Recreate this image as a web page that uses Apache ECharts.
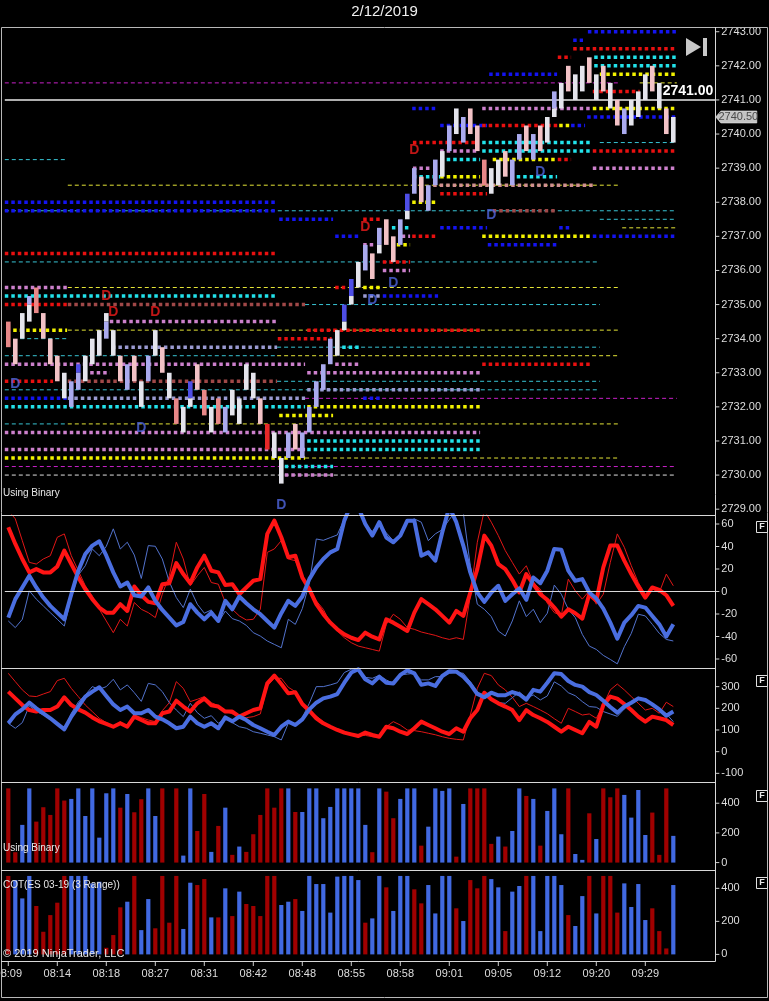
<!DOCTYPE html>
<html><head><meta charset="utf-8">
<script src="https://cdn.jsdelivr.net/npm/echarts@6/dist/echarts.min.js"></script>
<style>html,body{margin:0;padding:0;background:#000;}#c{width:769px;height:1001px;}</style>
</head><body><div id="c"></div>
<script>
const titleText = '2/12/2019';
const timeLabels = ['08:09','08:14','08:18','08:27','08:31','08:42','08:48','08:55','08:58','09:01','09:05','09:12','09:20','09:29'];
const lastPrice = 2740.5;
const refLine = 2741.0;

const candleHigh = [2734.5,2734.0,2734.75,2735.25,2735.5,2734.75,2734.0,2733.5,2733.0,2732.75,
 2733.25,2733.5,2734.0,2734.25,2734.75,2734.25,2733.5,2733.25,2733.5,2732.75,
 2733.5,2734.25,2733.75,2733.0,2732.25,2732.0,2732.75,2733.25,2732.5,2732.0,
 2732.25,2732.0,2732.5,2732.25,2733.25,2733.0,2732.25,2731.5,2731.25,2730.5,
 2731.25,2731.5,2731.25,2732.0,2732.75,2733.25,2734.0,2734.25,2735.0,2735.75,
 2736.25,2736.75,2736.5,2737.25,2737.5,2737.0,2737.5,2738.25,2739.0,2738.75,
 2738.5,2739.25,2739.5,2740.25,2740.75,2740.5,2740.75,2740.25,2739.25,2739.0,
 2739.25,2739.5,2739.25,2740.0,2740.25,2740.0,2740.25,2740.5,2741.25,2741.5,
 2742.0,2741.75,2742.0,2742.25,2741.75,2742.0,2741.5,2741.0,2740.75,2741.0,
 2741.25,2741.75,2742.0,2741.5,2740.75,2740.5];
const candleLow = [2733.75,2733.25,2734.0,2734.5,2734.75,2734.0,2733.25,2732.75,2732.25,2732.0,
 2732.5,2732.75,2733.25,2733.5,2734.0,2733.5,2732.75,2732.5,2732.75,2732.0,
 2732.75,2733.5,2733.0,2732.25,2731.5,2731.25,2732.0,2732.5,2731.75,2731.25,
 2731.5,2731.25,2731.75,2731.5,2732.5,2732.25,2731.5,2730.75,2730.5,2729.75,
 2730.5,2730.75,2730.5,2731.25,2732.0,2732.5,2733.25,2733.5,2734.25,2735.0,
 2735.5,2736.0,2735.75,2736.5,2736.75,2736.25,2736.75,2737.5,2738.25,2738.0,
 2737.75,2738.5,2738.75,2739.5,2740.0,2739.75,2740.0,2739.5,2738.5,2738.25,
 2738.5,2738.75,2738.5,2739.25,2739.5,2739.25,2739.5,2739.75,2740.5,2740.75,
 2741.25,2741.0,2741.25,2741.5,2741.0,2741.25,2740.75,2740.25,2740.0,2740.25,
 2740.5,2741.0,2741.25,2740.75,2740.0,2739.75];
const candleColor = ['s','p','w','l','s','p','p','p','w','l',
 'b','w','w','w','w','w','p','l','p','w',
 'l','w','p','w','s','w','b','p','s','w',
 's','l','w','w','w','w','p','r','w','w',
 'l','p','l','l','l','l','l','w','b','b',
 'w','l','p','l','p','p','l','b','l','p',
 'l','l','w','l','w','l','p','p','s','w',
 'w','p','l','l','p','l','p','w','l','w',
 'p','w','w','p','w','p','w','p','l','w',
 'w','w','p','w','p','w'];
const splitIndex = [3,10,14,26,48,49,53,57,78];
const splitPrice = [2735.0,2733.0,2734.5,2732.25,2734.5,2735.25,2736.75,2737.75,2740.75];
const splitColor = ['w','l','l','w','w','w','w','w','w'];

const dRedIdx = [58,51,14,15,21];
const dRedPrice = [2739.53,2737.27,2735.25,2734.78,2734.78];
const dBlueIdx = [1,19,39,52,55,69,76];
const dBluePrice = [2732.67,2731.38,2729.12,2735.13,2735.63,2737.62,2738.89];

const levelPrice = [2743.0,2742.75,2742.5,2742.25,2742.25,2742.0,2741.75,2741.75,2741.5,2741.5,
 2741.25,2740.75,2740.75,2740.75,2740.5,2740.25,2740.25,2740.25,2740.25,2739.75,
 2739.75,2739.75,2739.5,2739.5,2739.5,2739.25,2739.25,2739.25,2739.25,2739.0,
 2739.0,2738.75,2738.75,2738.75,2738.5,2738.5,2738.25,2738.0,2738.0,2737.75,
 2737.75,2737.75,2737.5,2737.5,2737.5,2737.25,2737.25,2737.25,2737.25,2737.0,
 2737.0,2737.0,2737.0,2737.0,2736.75,2736.75,2736.75,2736.5,2736.25,2736.25,
 2736.0,2735.5,2735.5,2735.5,2735.5,2735.25,2735.25,2735.25,2735.0,2735.0,
 2735.0,2734.5,2734.25,2734.25,2734.25,2734.0,2734.0,2733.75,2733.75,2733.75,
 2733.5,2733.5,2733.25,2733.25,2733.25,2733.0,2733.0,2732.75,2732.75,2732.75,
 2732.5,2732.5,2732.25,2732.25,2732.25,2732.25,2732.0,2732.0,2731.75,2731.5,
 2731.5,2731.25,2731.0,2730.75,2730.75,2730.5,2730.5,2730.25,2730.25,2730.0,
 2730.0];
const levelFrom = [82.8,80.7,80.7,78.5,83.7,83.7,84.5,68.7,-0.5,90.2,
 83.5,57.7,67.7,83.5,82.7,61.7,67.7,78.7,80.4,57.8,
 67.7,84.5,61.7,67.7,83.5,61.7,69.2,78.5,-0.5,57.8,
 83.5,57.8,61.7,71.7,8.5,60.7,61.7,57.7,-0.5,-0.5,
 -0.5,69.2,84.5,38.7,50.7,54.8,61.7,78.7,87.7,46.7,
 56.2,57.7,67.7,83.5,50.7,55.5,68.5,-0.5,-0.5,53.5,
 53.5,-0.5,8.5,46.7,50.7,-0.5,50.7,53.5,-0.5,8.5,
 42.4,14.5,0.7,8.5,42.7,1.7,38.5,14.8,38.4,47.7,
 -0.5,38.4,-0.5,46.7,67.7,11.7,42.7,-0.5,8.5,38.4,
 -0.5,42.7,-0.5,8.5,42.4,50.7,-0.5,42.7,38.7,-0.5,
 8.5,-0.5,42.7,-0.5,42.7,-0.5,42.4,-0.5,39.5,-0.5,
 39.5];
const levelTo = [95.5,82.1,95.5,80.4,95.5,95.5,95.5,78.4,87.4,95.5,
 90.2,61.2,83.4,95.5,95.5,68.4,78.5,80.4,82.4,67.1,
 83.4,95.5,67.1,83.4,95.5,67.4,78.4,80.4,8.5,60.2,
 95.5,61.7,67.4,78.4,87.4,83.5,68.4,61.2,38.4,95.5,
 38.4,78.4,95.5,46.4,53.4,57.4,68.4,80.4,95.5,50.2,
 57.4,61.4,83.4,95.5,52.4,57.4,78.4,38.4,84.5,57.4,
 57.4,8.4,87.4,48.5,53.4,38.4,53.4,61.4,8.4,42.4,
 84.5,38.4,8.4,87.4,67.4,8.4,46.2,38.4,84.5,50.2,
 38.4,87.4,42.4,50.2,83.4,14.5,67.4,6.4,38.4,84.5,
 84.5,67.4,8.4,42.4,95.5,53.4,42.4,67.4,46.4,8.4,
 87.4,67.4,67.4,42.4,67.4,42.4,87.4,95.5,46.4,95.5,
 46.4];
const levelKind = ['blueDot','blueDot','redDot','redDot','cyanDot','cyanDot','yellowDot','blueDot','purpleThin','yellowThin',
 'redDot','blueDot','pinkDot','yellowDot','blueDot','blueDot','redDot','yellowDot','blueDot','redDot',
 'cyanDot','cyanThin','pinkDot','cyanDot','redDot','cyanDot','yellowDot','redDot','cyanThin','pinkDot',
 'pinkDot','cyanDot','yellowDot','cyanDot','yellowThin','salmonDot','redDot','yellowDot','blueDot','cyanThin',
 'blueDot','darkRedDot','cyanThin','blueDot','redDot','cyanDot','blueDot','blueDot','yellowThin','blueDot',
 'pinkDot','redDot','yellowDot','blueDot','pinkDot','yellowDot','blueDot','redDot','cyanThin','redDot',
 'pinkDot','pinkDot','yellowThin','redDot','yellowDot','cyanDot','lavDot','blueDot','redDot','darkRedDot',
 'cyanThin','pinkDot','yellowDot','yellowThin','redDot','cyanThin','redDot','lavDot','cyanThin','cyanDot',
 'cyanThin','yellowThin','pinkDot','pinkDot','redDot','pinkDot','pinkDot','redDot','darkRedDot','cyanThin',
 'cyanThin','lavDot','blueDot','lavDot','purpleThin','blueDot','cyanDot','yellowDot','yellowDot','cyanThin',
 'yellowThin','pinkDot','cyanDot','pinkDot','cyanDot','yellowDot','yellowThin','purpleThin','cyanDot','whiteThin',
 'pinkDot'];

const oscRedThick = [57.1,42.3,28.9,17,19.9,17,17,22.3,36.3,24.4,
 12.5,2.1,-6.8,-14.3,-18.8,-18.8,-11.3,-17.3,4.5,-3.3,
 -9.2,-10.4,6.5,7.4,25.3,15.5,7.4,21.4,31.8,18.5,
 17,5.7,6.5,-2.4,3.6,9.5,11,51.2,63,48.2,
 30.4,31.8,12.5,2.1,-11.3,-20.2,-27.7,-33.6,-38.1,-41.1,
 -43.2,-36.6,-40.2,-42.6,-24.7,-27.7,-31.3,-35.1,-18.8,-6.8,
 -11.3,-15.8,-21.7,-27.7,-17.3,-21.7,-0.9,19.9,49.7,40.8,
 24.4,19.9,10.4,-0.9,15.5,6.5,-2.4,-7.4,-14.3,-22.3,
 -15.8,-19.3,-24.1,-2.4,-8.3,21.4,40.8,40.8,27.4,15.5,
 4.5,-5.4,3.6,1.5,-3.3,-12.8];
const oscBlueThick = [-23.2,-6.8,3.6,14,3.6,-5.4,-12.8,-18.8,-24.7,-2.4,
 18.5,33.3,40.8,44.6,31.8,17,4.5,8,-3.3,-4.5,
 3.6,-8.3,-16.4,-23.2,-30.1,-27.1,-11.3,-18.8,-24.7,-18.8,
 -26.2,-8.3,-15.8,-4.5,-10.4,-15.8,-20.2,-26.2,-32.1,-19.3,
 -8.3,-12.8,-4.5,11,21.4,28.9,34.8,37.8,63,78,
 75,60,49.7,61.6,48,43.8,49.7,63,63,31.8,
 34.8,27.4,52.7,75,61.6,40.8,17,-0.9,-9.2,-0.9,
 5.1,-8.3,-2.4,2.7,-7.4,12.5,7.4,18.5,37.8,37.2,
 18.5,9.5,11,-0.9,-6.3,-15.2,-27.7,-42,-27.7,-21.1,
 -12.8,-14.3,-21.7,-29.2,-40,-29.2];
const oscRedThin = [72,64.6,45.2,25.9,24.4,28.9,31.8,48.2,51.2,31.8,
 18.5,5.1,-3.9,-15.8,-26.2,-36.6,-24.7,-30.7,-9.8,-15.8,
 -18.8,-23.2,-2.4,14,43.8,28.9,5.1,14,21.4,8,
 6.5,-9.8,-15.8,-21.7,-25.3,-24.7,-15.8,34.8,37.8,45.2,
 28.9,27.4,12.5,2.1,-8.3,-15.8,-27.7,-35.1,-41.1,-45.5,
 -48.5,-50,-51.5,-53,-29.2,-20.2,-24.7,-32.1,-33.6,-36,
 -37.5,-39,-41.1,-42.6,-41.1,-42.6,-3.9,43.8,72,61.6,
 49.7,36.3,25.9,15.5,22.9,8,2.1,-10.4,-18.8,-21.1,
 11,0.6,-6.8,0.6,-11.3,-2.4,25.9,51.2,39.3,22.9,
 8,-2.4,2.1,-0.9,15.5,5.1];
const oscBlueThin = [-26.2,-32.1,-24.7,0.6,-6.8,-12.8,-18.8,-24.7,-30.7,-5.4,
 14.6,22.9,37.8,31.8,40.2,55.7,37.8,43.8,32.4,11.6,
 40.8,40.2,28.9,8.6,-5.4,-14.3,2.1,-11.3,-19.3,-16.4,
 -27.7,-17.3,-24.1,-26.2,-30.1,-36.6,-39.6,-44,-47,-50,
 -24.7,-29.2,-15.2,7.4,46.7,45.5,47.9,50.3,64.6,75,
 72,60.1,53.3,61,52.1,45.2,49.7,61.6,64.6,61.6,
 45.2,51.2,55,64,72,70,22.9,-11.3,-15.8,-22.3,
 -35.1,-39.6,-26.2,-8.3,-22.3,-15.8,-27.7,-19.3,5.7,-2.4,
 -15.8,-23.2,-38.1,-48.5,-51.5,-56.8,-60.4,-64.3,-49.1,-37.2,
 -20.2,-21.7,-29.2,-37.2,-42.6,-44];

const trendRedThick = [277,246,215,192,185,192,192,208,251,215,
 195,180,158,140,128,115,131,115,161.5,146,
 131,131,177,185,235,208,185,223,245,214,
 208,185,185,161.5,177,192,200,315,351,312,
 269,274,220,189,154,131,115,100,88,80,
 72,88,77,69,115,108,92,81.5,108,138.5,
 123,108,92,81.5,108,92,154,192,272,241.5,
 223,208,192,146,192,169,154,137,115,92,
 115,100,85,137,115,215,254,245,220,192,
 161.5,138.5,161.5,154,146,123];
const trendBlueThick = [131,172,195,226,200,177,154,128,103,161.5,
 208,254,277,297,257,218,192,208,177,177,
 192,161.5,149,131,108,115,161.5,131,115,131,
 108,158,140,161.5,146,123,108,92,77,115,
 138.5,123,149,195,226,246,254,266,318,365,
 380,334,315,346,318,315,354,375,361.5,309,
 315,303,349,371,369,346,312,266,251,272,
 260,260,275,265,240,285,277,318,361.5,358,
 326,308,300,275,261.5,235,206,180,208,226,
 246,238.5,218,195,166,185];
const trendRedThin = [361.5,323,285,257,254,266,277,328,338.5,292,
 254,215,185,154,134,115,138.5,115,169,157,
 146,138.5,189,226,323,292,231,241.5,254,226,
 211,188,174,161.5,157,161.5,174,303,338.5,338.5,
 297,277,223,189,165,138.5,115,100,88,80,
 74,75,69,65,115,138.5,123,100,97,92,
 85,78,69,61.5,57,54,169,292,361.5,351,
 308,285,251,208,223,208,192,175,152,131,
 200,185,169,174,154,215,285,312,285,254,
 223,192,200,177,228,208];
const trendBlueThin = [131,108,134,211,186,169,152,126,103,177,
 229,261.5,300,288,300,334,285,308,272,232,
 315,308,277,226,192,161.5,223,180,154,166,
 131,154,134,115,108,92,85,77,69,54,
 131,123,157,223,300,300,308,318,365,380,
 383,343,338.5,352,331,315,354,358,361.5,331,
 331,346,346,361.5,365,361.5,323,275,261.5,243,
 226,223,249,275,248,261.5,238.5,257,322,303,
 272,258,231,208,205,185,174,163,197,223,
 246,238.5,220,195,175,138.5];

const binaryValue = [500,70,254,500,276,373,321,500,418,429,
 500,314,500,168,467,500,370,462,339,427,
 500,314,500,0,500,47,500,213,462,72,
 247,370,52,108,72,191,321,500,370,500,
 500,341,341,500,500,299,375,500,500,500,
 500,254,70,500,478,299,429,500,500,114,
 242,500,483,500,40,395,500,500,500,126,
 175,108,213,500,449,429,114,348,500,191,
 500,58,18,332,159,500,440,500,456,303,
 489,186,337,52,500,180];
const binaryColor = ['r','r','b','b','r','r','r','r','r','b',
 'b','b','b','b','b','b','r','b','r','r',
 'b','b','r','r','r','b','b','r','r','b',
 'r','b','r','b','r','r','r','r','r','r',
 'b','r','b','b','b','b','b','b','b','b',
 'b','b','r','b','r','r','b','b','b','r',
 'b','b','b','b','r','b','r','r','r','r',
 'b','r','b','b','r','b','r','b','b','b',
 'r','b','b','r','b','r','r','r','b','b',
 'b','b','r','r','r','b'];
const cotValue = [475,450,339,475,293,137,238,313,475,475,
 475,475,430,440,40,117,285,319,475,147,
 335,158,475,192,475,154,434,420,456,224,
 224,400,232,380,305,293,232,475,475,299,
 319,335,263,475,426,426,253,471,475,475,
 450,192,218,475,406,263,475,475,394,309,
 420,248,475,475,279,202,450,400,475,456,
 406,141,380,414,475,475,141,475,475,420,
 238,172,353,475,248,475,475,253,430,287,
 426,208,279,141,36,420];
const cotColor = ['r','b','b','b','r','r','r','r','r','b',
 'b','b','b','b','r','r','r','b','r','b',
 'b','r','r','r','r','b','b','r','r','b',
 'r','b','r','b','r','r','r','r','r','b',
 'b','r','b','b','b','b','b','b','b','b',
 'b','r','b','b','r','b','b','b','r','r',
 'b','b','b','b','r','b','r','r','r','b',
 'b','r','b','b','r','b','b','b','b','b',
 'r','b','b','r','b','r','r','r','b','b',
 'b','b','r','r','r','b'];

// ---------- styles ----------
const FONT = '"Liberation Sans", Arial, sans-serif';
const CANDLE_COLORS = {w:'#e4e4ec', p:'#f2c2c6', s:'#e88888', l:'#aaaaee', b:'#4e4ee6', r:'#e82828'};
const VOL_COLORS = {r:'#a00000', b:'#4169e1'};
const LEVEL_STYLES = {
  blueDot:{color:'#1414f0', width:3.5, type:[3.5,3]},
  redDot:{color:'#e81010', width:3.5, type:[3.5,3]},
  cyanDot:{color:'#22e2ea', width:3.5, type:[3.5,3]},
  yellowDot:{color:'#f2f200', width:3.5, type:[3.5,3]},
  pinkDot:{color:'#cc80cc', width:3.5, type:[3.5,3]},
  lavDot:{color:'#9a9ad2', width:3.5, type:[3.5,3]},
  darkRedDot:{color:'#a04848', width:3.5, type:[3.5,3]},
  salmonDot:{color:'#d09090', width:3.5, type:[3.5,3]},
  cyanThin:{color:'#38c4d4', width:1, type:[4,3]},
  yellowThin:{color:'#e4e436', width:1, type:[4,3]},
  purpleThin:{color:'#c820c8', width:1, type:[4,3]},
  whiteThin:{color:'#e0e0e0', width:1, type:[4,3]}
};
const RICH_Y = {
  t:{width:4, height:1, backgroundColor:'#cfcfcf', verticalAlign:'middle'},
  v:{color:'#dedede', fontSize:11, fontFamily:FONT, padding:[0,0,0,2], verticalAlign:'middle'}
};
const isInt = v => Math.abs(v - Math.round(v)) < 1e-6;

const chart = echarts.init(document.getElementById('c'));

const gridDefs = [
  {left:4.8, right:53.7, top:23.2, height:494.5, outerBoundsMode:'none'},
  {left:4.8, right:53.7, top:515, height:153, outerBoundsMode:'none'},
  {left:4.8, right:53.7, top:668, height:114, outerBoundsMode:'none'},
  {left:4.8, right:53.7, top:782, height:88, outerBoundsMode:'none'},
  {left:4.8, right:53.7, top:870, height:91, outerBoundsMode:'none'}
];

const xAxes = gridDefs.map((g, k) => ({
  type:'value', gridIndex:k, min:-0.5, max:101, interval:0.5,
  show: k === 4,
  axisLine:{show:false}, axisTick:{show:false}, splitLine:{show:false},
  axisLabel: k === 4 ? {
    show:true, margin:0, alignMinLabel:'center', alignMaxLabel:'center',
    formatter: v => {
      if (!isInt(v)) return '';
      const r = Math.round(v);
      if (r < 0 || r % 7 !== 0 || r / 7 >= timeLabels.length) return '';
      return '{t|}\n{v|' + timeLabels[r / 7] + '}';
    },
    rich:{
      t:{width:1, height:5, backgroundColor:'#cfcfcf', align:'center'},
      v:{color:'#dedede', fontSize:11, fontFamily:FONT, lineHeight:14, padding:[1,0,0,0], align:'center'}
    }
  } : {show:false}
}));

function yAxisDef(k, min, max, interval, test, fmt) {
  return {
    type:'value', gridIndex:k, position:'right', min:min, max:max, interval:interval,
    axisLine:{show:false}, axisTick:{show:false}, splitLine:{show:false},
    axisLabel:{show:true, margin:0, formatter: v => test(v) ? '{t|}{v|' + fmt(v) + '}' : '', rich:RICH_Y}
  };
}
const yAxes = [
  yAxisDef(0, 2728.75, 2743.25, 0.25, v => isInt(v) && v >= 2729 && v <= 2743, v => v.toFixed(2)),
  yAxisDef(1, -68, 68, 4, v => isInt(v) && Math.round(v) % 20 === 0, v => String(Math.round(v))),
  yAxisDef(2, -140, 386, 20, v => isInt(v) && Math.round(v) % 100 === 0, v => String(Math.round(v))),
  yAxisDef(3, -50, 543, 50, v => isInt(v) && v >= 0 && Math.round(v) % 200 === 0, v => String(Math.round(v))),
  yAxisDef(4, -40, 511, 40, v => isInt(v) && v >= 0 && Math.round(v) % 200 === 0, v => String(Math.round(v)))
];

const series = [];

// level lines
levelPrice.forEach((p, k) => {
  series.push({
    type:'line', xAxisIndex:0, yAxisIndex:0, silent:true, symbol:'none', z:1,
    data:[[levelFrom[k], p], [levelTo[k], p]],
    lineStyle:Object.assign({cap:'butt', opacity:1}, LEVEL_STYLES[levelKind[k]])
  });
});

// candles
series.push({
  type:'custom', xAxisIndex:0, yAxisIndex:0, z:5,
  data: candleHigh.map((h, k) => [k, h, candleLow[k]]),
  encode:{x:0, y:[1,2]},
  renderItem: function(params, api) {
    const k = params.dataIndex;
    const i = api.value(0), hi = api.value(1), lo = api.value(2);
    const top = api.coord([i, hi]), bot = api.coord([i, lo]);
    const w = 4.6;
    const s = splitIndex.indexOf(k);
    const children = [];
    if (s < 0) {
      children.push({type:'rect', shape:{x:top[0]-w/2, y:top[1], width:w, height:bot[1]-top[1]}, style:{fill:CANDLE_COLORS[candleColor[k]]}});
    } else {
      const m = api.coord([i, splitPrice[s]]);
      children.push({type:'rect', shape:{x:top[0]-w/2, y:top[1], width:w, height:m[1]-top[1]}, style:{fill:CANDLE_COLORS[candleColor[k]]}});
      children.push({type:'rect', shape:{x:top[0]-w/2, y:m[1], width:w, height:bot[1]-m[1]}, style:{fill:CANDLE_COLORS[splitColor[s]]}});
    }
    return {type:'group', children:children};
  },
  markLine:{
    silent:true, symbol:['none','none'], animation:false,
    lineStyle:{color:'#e8e8e8', width:1.5, type:'solid'},
    label:{show:true, position:'insideEndTop', formatter: refLine.toFixed(2), color:'#ffffff', fontWeight:'bold', fontSize:14, fontFamily:FONT, distance:[2,2]},
    data:[{yAxis:refLine}]
  },
  markPoint:{
    silent:true, animation:false,
    symbol:'path://M0,6 L5,0 L41,0 L41,12 L5,12 Z', symbolSize:[41,12], symbolOffset:[21,0],
    itemStyle:{color:'#c4c4c4', borderColor:'#e8e8e8', borderWidth:0.5},
    label:{show:true, formatter: lastPrice.toFixed(2), color:'#4a4a4a', fontSize:11, fontFamily:FONT, offset:[2,0]},
    data:[{coord:[101, lastPrice]}]
  }
});

// D markers
function dSeries(idx, prices, color) {
  return {
    type:'scatter', xAxisIndex:0, yAxisIndex:0, z:6, silent:true,
    symbol:'circle', symbolSize:2, itemStyle:{color:'rgba(0,0,0,0)'},
    label:{show:true, position:'inside', formatter:'D', color:color, fontSize:14, fontWeight:'bold', fontFamily:FONT, textBorderWidth:0},
    data: idx.map((x, k) => [x, prices[k]])
  };
}
series.push(dSeries(dRedIdx, dRedPrice, '#f01c1c'));
series.push(dSeries(dBlueIdx, dBluePrice, '#4f66e0'));

// oscillator panels
function lineS(grid, arr, color, width, z) {
  return {type:'line', xAxisIndex:grid, yAxisIndex:grid, symbol:'none', silent:true, z:z,
    data: arr.map((v, i) => [i, v]), lineStyle:{color:color, width:width, join:'round'}};
}
series.push(lineS(1, oscRedThin, '#e01616', 1, 2));
series.push(lineS(1, oscBlueThin, '#5272cc', 1, 2));
series.push(lineS(1, oscRedThick, '#ff1414', 4, 3));
series.push(lineS(1, oscBlueThick, '#4a6ee0', 4, 3));
series.push({type:'line', xAxisIndex:1, yAxisIndex:1, data:[], silent:true,
  markLine:{silent:true, symbol:['none','none'], animation:false, label:{show:false},
    lineStyle:{color:'#d8d8d8', width:1, type:'solid'}, data:[{yAxis:0}]}});
series.push(lineS(2, trendRedThin, '#e01616', 1, 2));
series.push(lineS(2, trendBlueThin, '#5272cc', 1, 2));
series.push(lineS(2, trendRedThick, '#ff1414', 4, 3));
series.push(lineS(2, trendBlueThick, '#4a6ee0', 4, 3));

// volume-style panels
function volS(grid, vals, cols) {
  return {
    type:'custom', xAxisIndex:grid, yAxisIndex:grid, z:3,
    data: vals.map((v, i) => [i, v]), encode:{x:0, y:1},
    renderItem: function(params, api) {
      const k = params.dataIndex;
      const p0 = api.coord([api.value(0), 0]), p1 = api.coord([api.value(0), api.value(1)]);
      const w = 4.2;
      return {type:'rect', shape:{x:p0[0]-w/2, y:p1[1], width:w, height:p0[1]-p1[1]}, style:{fill:VOL_COLORS[cols[k]]}};
    }
  };
}
series.push(volS(3, binaryValue, binaryColor));
series.push(volS(4, cotValue, cotColor));

// frame & annotations
const LINE = '#d8d8d8';
const graphics = [
  {id:'title', type:'text', left:'center', top:4, style:{text:titleText, fill:'#f0f0f0', fontSize:15, fontFamily:FONT}},
  {id:'frame', type:'rect', shape:{x:1.5, y:27.5, width:766, height:970}, style:{fill:'none', stroke:'#b8b8b8', lineWidth:1}, z:50},
  {id:'vax', type:'line', shape:{x1:715.5, y1:27, x2:715.5, y2:961.5}, style:{stroke:LINE, lineWidth:1}, z:50},
  {id:'s1', type:'line', shape:{x1:1, y1:515.5, x2:715.5, y2:515.5}, style:{stroke:LINE, lineWidth:1}, z:50},
  {id:'s2', type:'line', shape:{x1:1, y1:668.5, x2:715.5, y2:668.5}, style:{stroke:LINE, lineWidth:1}, z:50},
  {id:'s3', type:'line', shape:{x1:1, y1:782.5, x2:715.5, y2:782.5}, style:{stroke:LINE, lineWidth:1}, z:50},
  {id:'s4', type:'line', shape:{x1:1, y1:870.5, x2:715.5, y2:870.5}, style:{stroke:LINE, lineWidth:1}, z:50},
  {id:'s5', type:'line', shape:{x1:1, y1:961.5, x2:715.5, y2:961.5}, style:{stroke:LINE, lineWidth:1}, z:50},
  {id:'play1', type:'polygon', shape:{points:[[686,38],[686,56],[701,47]]}, style:{fill:'#c8c8c8'}, z:50},
  {id:'play2', type:'rect', shape:{x:703, y:38, width:4, height:18}, style:{fill:'#c8c8c8'}, z:50},
  {id:'t1', type:'text', x:3, y:488, style:{text:'Using Binary', fill:'#e8e8e8', fontSize:10, fontFamily:FONT}, z:50},
  {id:'t2', type:'text', x:3, y:843, style:{text:'Using Binary', fill:'#e8e8e8', fontSize:10, fontFamily:FONT}, z:50},
  {id:'t3', type:'text', x:3, y:880, style:{text:'COT(ES 03-19 (3 Range))', fill:'#e8e8e8', fontSize:10, fontFamily:FONT}, z:50},
  {id:'t4', type:'text', x:3, y:948, style:{text:'\u00a9 2019 NinjaTrader, LLC', fill:'#e8e8e8', fontSize:11, fontFamily:FONT}, z:50}
];
[527, 681, 796, 883].forEach((y, k) => {
  graphics.push({id:'fb'+k, type:'rect', shape:{x:756.5, y:y-5.5, width:11, height:11}, style:{fill:'#000', stroke:'#e0e0e0', lineWidth:1}, z:50});
  graphics.push({id:'ft'+k, type:'text', x:762, y:y, style:{text:'F', fill:'#e8e8e8', fontSize:9, fontWeight:'bold', fontFamily:FONT, align:'center', verticalAlign:'middle'}, z:51});
});

chart.setOption({
  backgroundColor:'#000',
  animation:false,
  grid:gridDefs,
  xAxis:xAxes,
  yAxis:yAxes,
  series:series,
  graphic:graphics
});
</script>
</body></html>
